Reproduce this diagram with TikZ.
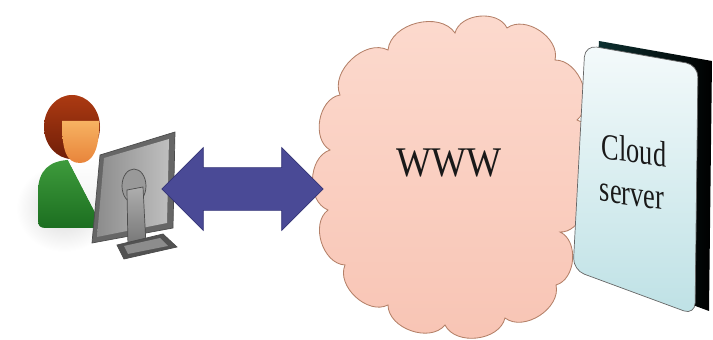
\documentclass[tikz,border=0pt]{standalone}
\usepackage{fontspec}
\setmainfont{Liberation Serif}
\usetikzlibrary{shapes.arrows, calc}

\definecolor{hairbrown}{RGB}{172,58,18}
\definecolor{hairdark}{RGB}{112,30,8}
\definecolor{skin}{RGB}{247,178,98}
\definecolor{skindark}{RGB}{232,132,58}
\definecolor{shirtgreen}{RGB}{62,155,60}
\definecolor{shirtdark}{RGB}{28,110,32}
\definecolor{linkblue}{RGB}{74,74,150}
\definecolor{linkedge}{RGB}{52,52,118}
\definecolor{cloudpink}{RGB}{252,218,206}
\definecolor{cloudpinkdark}{RGB}{248,196,180}
\definecolor{cloudedge}{RGB}{180,128,104}
\definecolor{serverlight}{RGB}{244,250,251}
\definecolor{serverblue}{RGB}{190,225,229}
\definecolor{serverside}{RGB}{14,52,52}

\begin{document}
\begin{tikzpicture}[
  x=0.025cm, y=-0.025cm,
  every node/.style={align=center},
  bigtext/.style={font=\fontsize{30}{30}\selectfont, text=black!90, inner sep=0pt},
  srvtext/.style={bigtext, font=\fontsize{26}{26}\selectfont, cm={0.72,-0.1,0,1,(0,0)}},
  monitor/.style={draw=black!70, line width=0.5pt},
  link/.style={double arrow, double arrow head extend=0.5cm, inner xsep=0pt, inner ysep=0.525cm,
               minimum height=4.025cm, fill=linkblue, draw=linkedge, line width=0.5pt},
]
\useasboundingbox (0,0) rectangle (713,340);

% ---------------------------------------------------------------- user at the desk
\shade[inner color=black!16, outer color=white] (64,208) ellipse [x radius=48, y radius=44];
\shade[top color=shirtgreen, bottom color=shirtdark]
  (38,220) -- (38,192) .. controls (38,170) and (50,161) .. (68,160)
  -- (96,214) -- (97,228) -- (46,228) .. controls (40,228) and (38,226) .. cycle;
\shade[top color=white, bottom color=black!6] (68,160) -- (100,159) -- (98,216) -- (96,214) -- cycle;
\shade[top color=hairbrown, bottom color=hairdark] (72,127) ellipse [x radius=28, y radius=32];
\shade[top color=skin, bottom color=skindark]
  (62,121) -- (99,121) .. controls (100,150) and (92,163) .. (80,163)
  .. controls (66,163) and (62,150) .. cycle;
\coordinate (user) at (64,160);

% back of the monitor with its stand
\draw[monitor, fill=black!60] (100,155) -- (175,132) -- (173,228) -- (92,243) -- cycle;
\shade[left color=black!45, right color=black!25] (104,158) -- (169,139) -- (167,223) -- (97,237) -- cycle;
\draw[monitor, fill=black!40] (134,186) ellipse [x radius=12, y radius=17];
\draw[monitor, top color=black!32, bottom color=black!55] (127,190) -- (143,187) -- (146,245) -- (128,249) -- cycle;
\draw[monitor, fill=black!68] (117,245) -- (163,234) -- (177,247) -- (124,259) -- cycle;
\fill[black!45] (124,246) -- (160,238) -- (168,246) -- (128,254) -- cycle;
\coordinate (pc) at (162,189);

% ---------------------------------------------------------------- the web
\draw[cloudedge, line width=0.6pt, top color=cloudpink, bottom color=cloudpinkdark]
  (340,95) to[bend left=70] (388,50) to[bend left=70] (455,33) to[bend left=70] (507,28)
  to[bend left=70] (555,60) to[bend left=70] (577,120) to[bend left=70] (580,185)
  to[bend left=70] (560,232) to[bend left=70] (556,285) to[bend left=70] (505,318)
  to[bend left=70] (445,325) to[bend left=70] (388,305) to[bend left=70] (345,265)
  to[bend left=70] (328,210) to[bend left=70] (330,150) to[bend left=70] (340,95) -- cycle;
\coordinate (webin) at (323,189);
\node[bigtext, xscale=0.88] (www) at (449,163) {WWW};

% ---------------------------------------------------------------- the server
\shade[left color=serverside, right color=black] (599,41) -- (712,61) -- (709,311) -- (587,266) -- cycle;
\draw[black!60, line width=0.5pt, rounded corners=0.3cm, top color=serverlight, bottom color=serverblue]
  (585,45) -- (698,65) -- (695,315) -- (573,270) -- cycle;
\node[srvtext] (cloudtxt) at (634,150) {Cloud};
\node[srvtext] (servtxt) at (632,197) {server};

% ---------------------------------------------------------------- link
\node[link] (link) at ($(pc)!0.5!(webin)$) {};

\end{tikzpicture}
\end{document}
